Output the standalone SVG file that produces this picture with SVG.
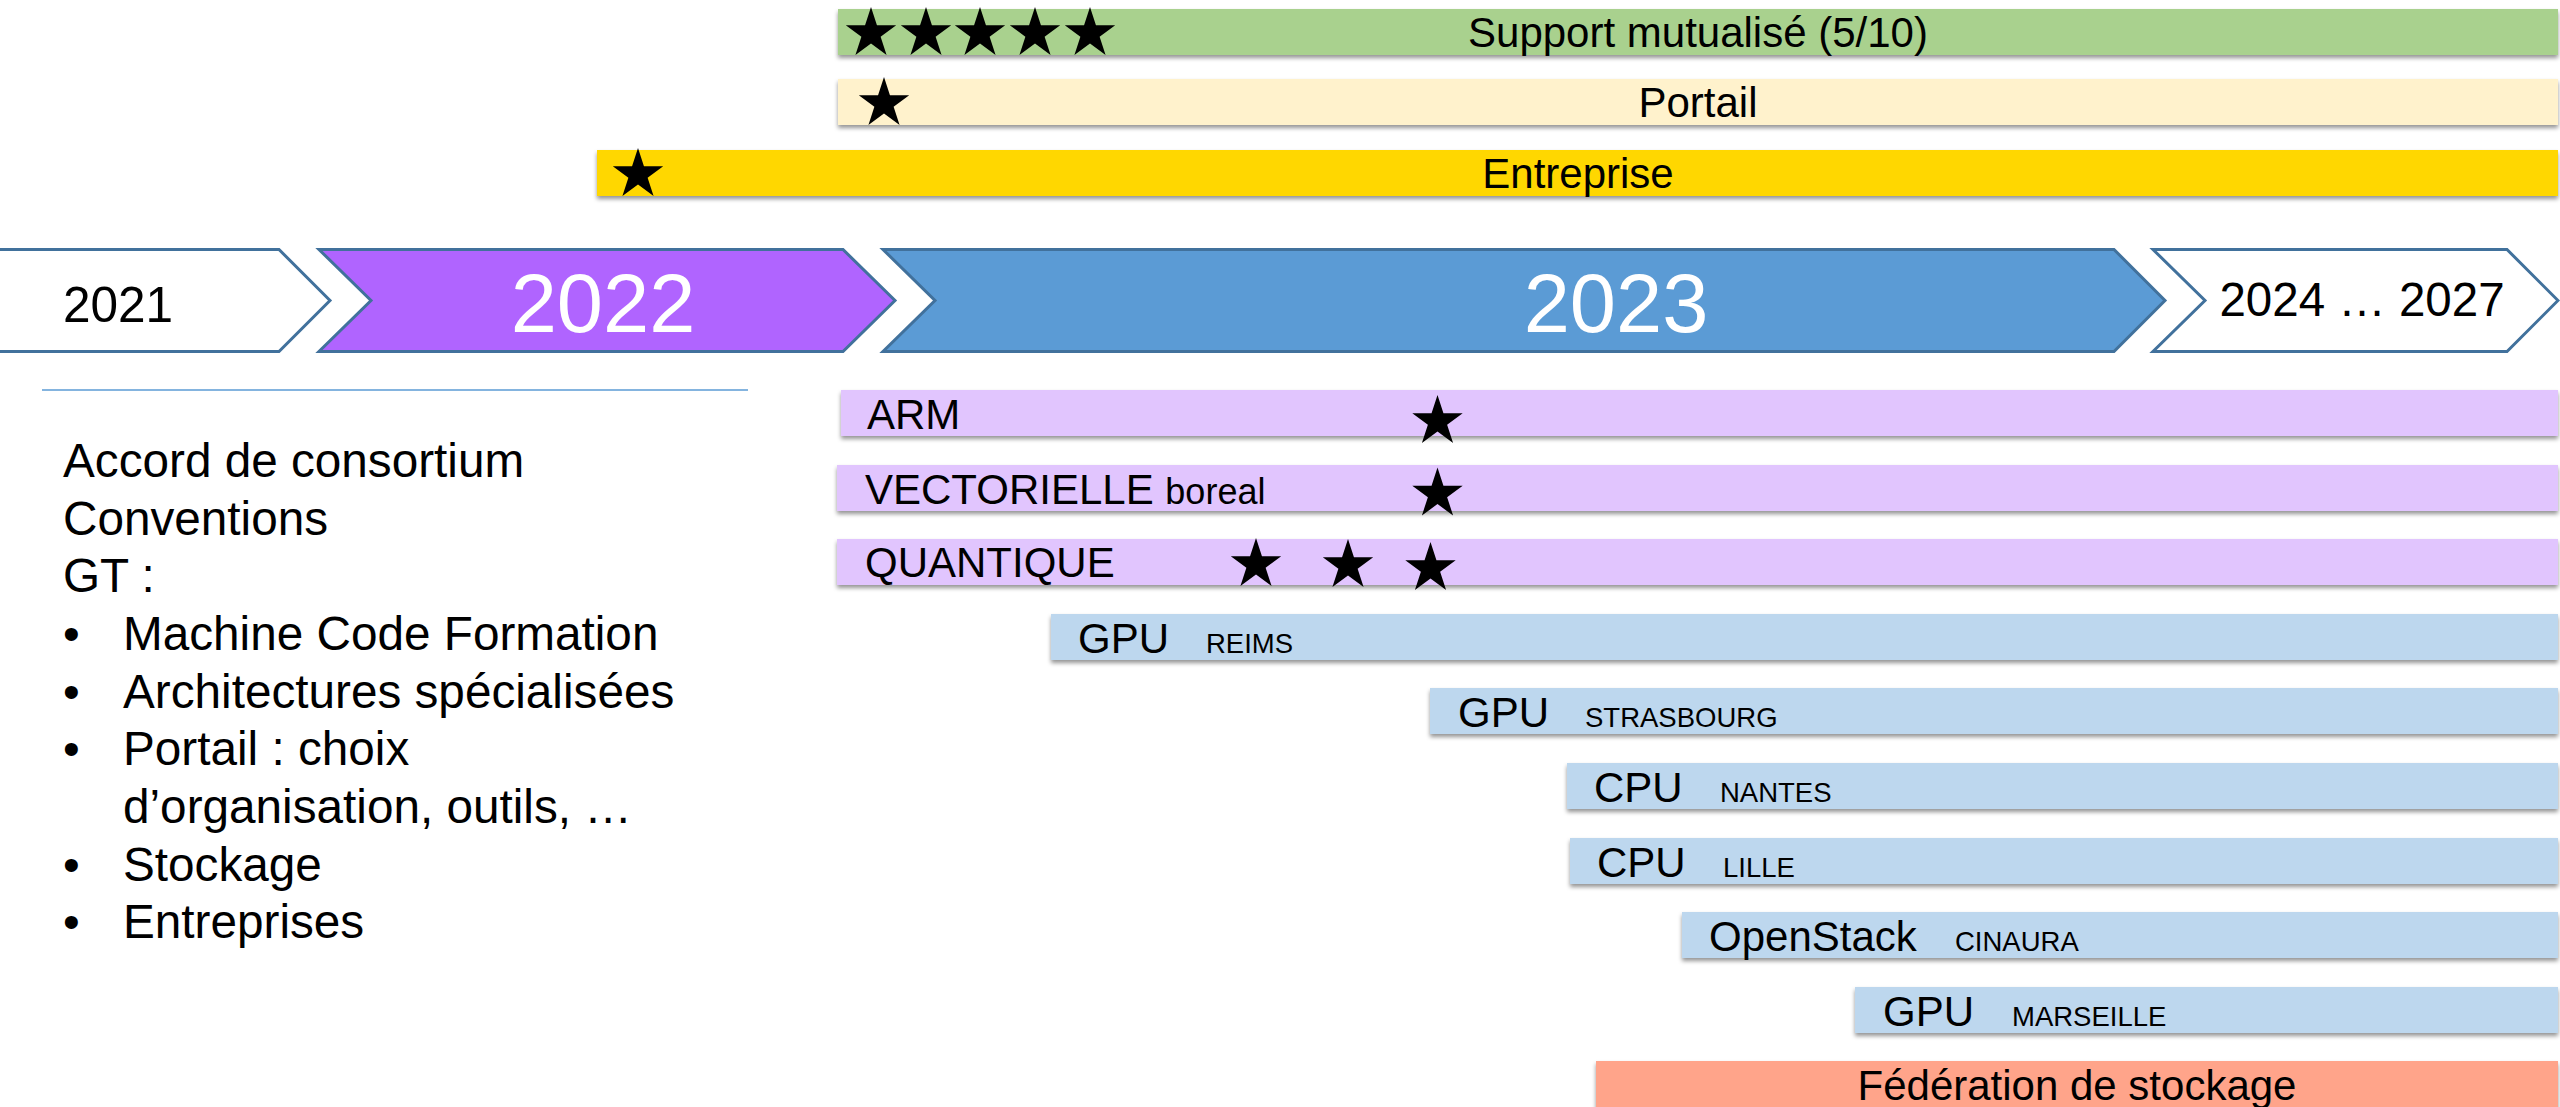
<svg xmlns="http://www.w3.org/2000/svg" width="2560" height="1107" viewBox="0 0 2560 1107">
<style>
text{font-family:"Liberation Sans",Arial,sans-serif;fill:#000}
.lbl{font-size:42px}
.sm{font-size:27.5px}
.list{font-size:47.7px}
.chev{stroke:#41719c;stroke-width:3;stroke-linejoin:miter}
.bar{filter:url(#sh)}
</style>
<defs>
<filter id="sh" x="-2%" y="-30%" width="104%" height="180%">
<feDropShadow dx="0" dy="3" stdDeviation="2" flood-color="#000" flood-opacity="0.42"/>
</filter>
<path id="star" d="M0,-26.5 L5.95,-8.19 L25.2,-8.19 L9.62,3.13 L15.58,21.44 L0,10.12 L-15.58,21.44 L-9.62,3.13 L-25.2,-8.19 L-5.95,-8.19 Z" fill="#000"/>
</defs>
<rect width="2560" height="1107" fill="#fff"/>

<g id="connectors"/>

<g id="support">
<rect class="bar" x="838" y="9" width="1720" height="46" fill="#a9d18e"/>
<use href="#star" x="871" y="33.5"/>
<use href="#star" x="926" y="33.5"/>
<use href="#star" x="980" y="33.5"/>
<use href="#star" x="1035" y="33.5"/>
<use href="#star" x="1090" y="33.5"/>
<text class="lbl" x="1698" y="47" text-anchor="middle">Support mutualisé (5/10)</text>
</g>

<g id="portail">
<rect class="bar" x="838" y="79" width="1720" height="46" fill="#fff2cc"/>
<use href="#star" x="884" y="103.5"/>
<text class="lbl" x="1698" y="117" text-anchor="middle">Portail</text>
</g>

<g id="entreprise">
<rect class="bar" x="597" y="150" width="1961" height="46" fill="#ffd700"/>
<use href="#star" x="638" y="174.5"/>
<text class="lbl" x="1578" y="188" text-anchor="middle">Entreprise</text>
</g>

<g id="y2021">
<path class="chev" d="M-5,249.5 L279,249.5 L330,300.5 L279,351.5 L-5,351.5 Z" fill="#fff"/>
<text x="118" y="322" font-size="49.5" text-anchor="middle">2021</text>
</g>
<g id="y2022">
<path class="chev" d="M319,249.5 L843,249.5 L895,300.5 L843,351.5 L319,351.5 L371,300.5 Z" fill="#b064ff"/>
<text x="603" y="332" font-size="83" text-anchor="middle" style="fill:#fff">2022</text>
</g>
<g id="y2023">
<path class="chev" d="M883,249.5 L2114,249.5 L2165,300.5 L2114,351.5 L883,351.5 L935,300.5 Z" fill="#5b9bd5"/>
<text x="1616" y="332" font-size="83" text-anchor="middle" style="fill:#fff">2023</text>
</g>
<g id="y2024">
<path class="chev" d="M2153,249.5 L2507,249.5 L2558,300.5 L2507,351.5 L2153,351.5 L2205,300.5 Z" fill="#fff"/>
<text x="2362" y="316" font-size="47.5" text-anchor="middle">2024 … 2027</text>
</g>

<line x1="42" y1="390" x2="748" y2="390" stroke="#5b9bd5" stroke-width="1.5"/>

<g id="notes" class="list">
<text x="63" y="477">Accord de consortium</text>
<text x="63" y="535">Conventions</text>
<text x="63" y="592">GT :</text>
<text x="63" y="650">•</text><text x="123" y="650">Machine Code Formation</text>
<text x="63" y="707.5">•</text><text x="123" y="707.5">Architectures spécialisées</text>
<text x="63" y="765">•</text><text x="123" y="765">Portail : choix</text>
<text x="123" y="823">d’organisation, outils, …</text>
<text x="63" y="880.5">•</text><text x="123" y="880.5">Stockage</text>
<text x="63" y="938">•</text><text x="123" y="938">Entreprises</text>
</g>

<g id="arm">
<rect class="bar" x="841" y="390" width="1717" height="46" fill="#e1c5fe"/>
<text class="lbl" x="867" y="429">ARM</text>
<use href="#star" x="1437.5" y="421.5"/>
</g>
<g id="vectorielle">
<rect class="bar" x="837" y="465" width="1721" height="46" fill="#e1c5fe"/>
<text class="lbl" x="865" y="504">VECTORIELLE <tspan font-size="36">boreal</tspan></text>
<use href="#star" x="1437.5" y="494"/>
</g>
<g id="quantique">
<rect class="bar" x="837" y="539" width="1721" height="46" fill="#e1c5fe"/>
<text class="lbl" x="865" y="577">QUANTIQUE</text>
<use href="#star" x="1256" y="564.5"/>
<use href="#star" x="1348" y="565.5"/>
<use href="#star" x="1430.5" y="568.5"/>
</g>

<g id="gpu-reims">
<rect class="bar" x="1051" y="614" width="1507" height="46" fill="#bdd7ee"/>
<text class="lbl" x="1078" y="653">GPU</text><text class="sm" x="1206" y="653">REIMS</text>
</g>
<g id="gpu-strasbourg">
<rect class="bar" x="1430" y="688" width="1128" height="46" fill="#bdd7ee"/>
<text class="lbl" x="1458" y="727">GPU</text><text class="sm" x="1585" y="727">STRASBOURG</text>
</g>
<g id="cpu-nantes">
<rect class="bar" x="1567" y="763" width="991" height="46" fill="#bdd7ee"/>
<text class="lbl" x="1594" y="802">CPU</text><text class="sm" x="1720" y="802">NANTES</text>
</g>
<g id="cpu-lille">
<rect class="bar" x="1570" y="838" width="988" height="46" fill="#bdd7ee"/>
<text class="lbl" x="1597" y="877">CPU</text><text class="sm" x="1723" y="877">LILLE</text>
</g>
<g id="openstack-cinaura">
<rect class="bar" x="1682" y="912" width="876" height="46" fill="#bdd7ee"/>
<text class="lbl" x="1709" y="951">OpenStack</text><text class="sm" x="1955" y="951">CINAURA</text>
</g>
<g id="gpu-marseille">
<rect class="bar" x="1855" y="987" width="703" height="46" fill="#bdd7ee"/>
<text class="lbl" x="1883" y="1026">GPU</text><text class="sm" x="2012" y="1026">MARSEILLE</text>
</g>
<g id="federation">
<rect class="bar" x="1596" y="1061" width="962" height="50" fill="#ffa48a"/>
<text class="lbl" x="2077" y="1100" text-anchor="middle">Fédération de stockage</text>
</g>
</svg>
